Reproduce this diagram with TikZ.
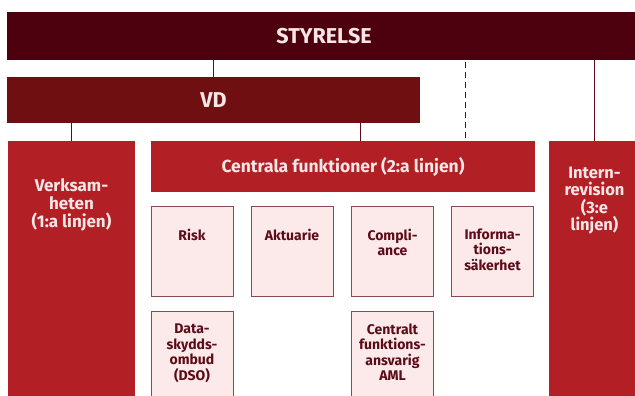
\documentclass[tikz,border=0pt]{standalone}
\usepackage{fontspec}
\setmainfont{Fira Sans}
\usetikzlibrary{positioning}
\definecolor{orgWine}{HTML}{4D000D}
\definecolor{orgMaroon}{HTML}{6F0F12}
\definecolor{orgRed}{HTML}{B21F25}
\definecolor{orgBlush}{HTML}{FCE9E9}
\definecolor{orgEdge}{HTML}{8A4A52}
\definecolor{orgInk}{HTML}{5C0B18}
\definecolor{orgPale}{HTML}{FAE6E6}
\begin{document}
\begin{tikzpicture}[x=1pt,y=-1pt,line join=miter]
\path[fill=white] (0,0) rectangle (635,396);
\clip (0,0) rectangle (635,396);
\tikzset{bar/.style={fill=#1,inner sep=0pt,text=orgPale,font=\bfseries\fontsize{21.5}{23}\selectfont},redbox/.style={fill=orgRed,inner sep=0pt,text=orgPale,font=\bfseries\fontsize{17.5}{19}\selectfont},funcbox/.style={draw=orgEdge,fill=orgBlush,line width=0.8pt,inner sep=0pt,minimum width=82pt,minimum height=90pt},boxtext/.style={text=orgInk,font=\bfseries\fontsize{14}{15.5}\selectfont,align=center,anchor=north,inner sep=0pt},redtext/.style={text=orgPale,font=\bfseries\fontsize{17}{18}\selectfont,align=center,anchor=north,inner sep=0pt},conn/.style={draw=orgInk,line width=1pt}}
\node[bar=orgWine,minimum width=634pt,minimum height=48pt] (styrelse) at (324,36) {STYRELSE};
\node[bar=orgMaroon,minimum width=413pt,minimum height=46pt] (vd) at (213.5,100) {VD};
\node[redbox,minimum width=127pt,minimum height=270pt] (verk) at (71.5,276) {};
\node[redbox,minimum width=384pt,minimum height=51pt] (cf) at (343,166.5) {Centrala funktioner (2:a linjen)};
\node[redbox,minimum width=91pt,minimum height=270pt] (intern) at (594.5,276) {};
\node[redtext] (verklbl) at ([yshift=-38pt]verk.north) {Verksam-\\heten\\(1:a linjen)};
\node[redtext,font=\bfseries\fontsize{16.5}{17.5}\selectfont] (internlbl) at ([yshift=-26pt]intern.north) {Intern-\\revision\\(3:e\\linjen)};
\node[funcbox] (risk) at (192,251) {};
\node[funcbox] (akt) at (292,251) {};
\node[funcbox] (comp) at (392.5,251) {};
\node[funcbox] (info) at (492.5,251) {};
\node[funcbox] (dso) at (192,356) {};
\node[funcbox] (aml) at (392.5,356) {};
\node[boxtext] at ([yshift=-23pt]risk.north) {Risk};
\node[boxtext] at ([yshift=-23pt]akt.north) {Aktuarie};
\node[boxtext] at ([yshift=-23pt]comp.north) {Compli-\\ance};
\node[boxtext] at ([yshift=-23pt]info.north) {Informa-\\tions-\\säkerhet};
\node[boxtext] at ([yshift=-13pt]dso.north) {Data-\\skydds-\\ombud\\(DSO)};
\node[boxtext] at ([yshift=-13pt]aml.north) {Centralt\\funktions-\\ansvarig\\AML};
\coordinate (cfjoin) at ([xshift=17pt]cf.north);
\coordinate (cfdash) at ([xshift=122pt]cf.north);
\draw[conn] (vd.north) -- (vd.north |- styrelse.south);
\draw[conn] (verk.north) -- (verk.north |- vd.south);
\draw[conn] (cfjoin) -- (cfjoin |- vd.south);
\draw[conn,dash pattern=on 6pt off 4pt,dash phase=-2pt] (cfdash |- styrelse.south) -- (cfdash);
\draw[conn] (intern.north) -- (intern.north |- styrelse.south);
\end{tikzpicture}
\end{document}
